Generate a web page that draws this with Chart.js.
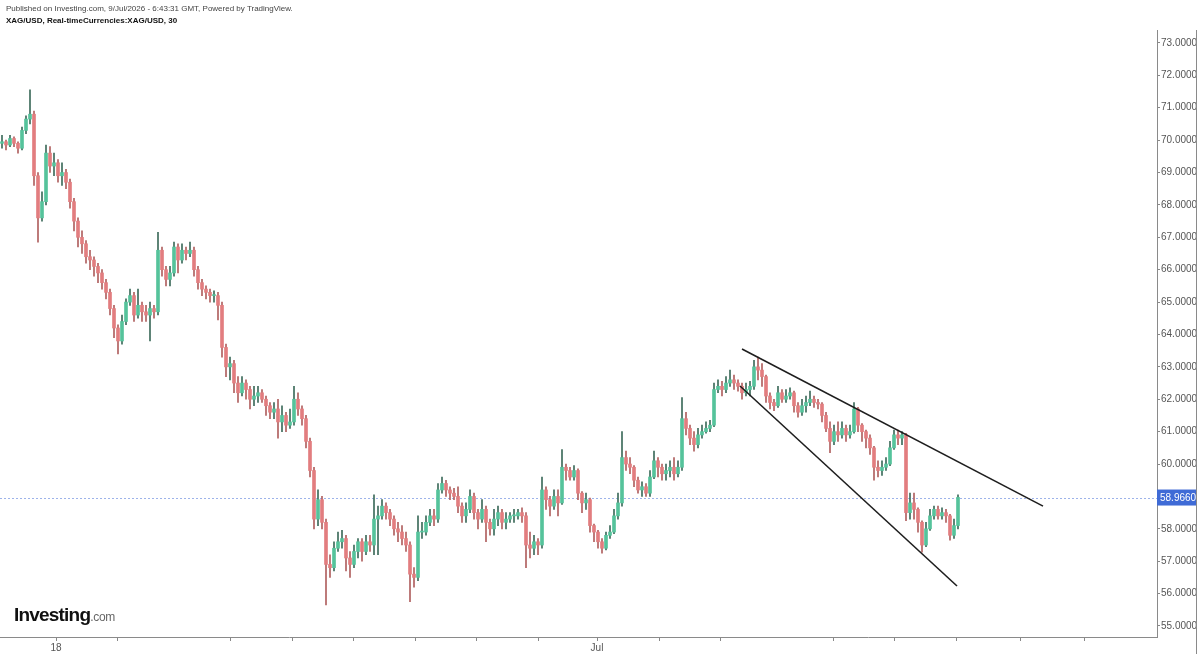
<!DOCTYPE html>
<html>
<head>
<meta charset="utf-8">
<script src="https://cdn.jsdelivr.net/npm/chart.js@4.4.1/dist/chart.umd.min.js"></script>
<style>
    html, body { margin: 0; padding: 0; background: #fff; }
    #wrap { position: relative; width: 1200px; height: 654px; overflow: hidden; }
    #chart { position: absolute; left: 0; top: 0; }
    .hdr { position: absolute; left: 6px; font-family: "Liberation Sans", Arial, sans-serif; font-size: 8px; color: #444; white-space: nowrap; }
    .logo { position: absolute; left: 14px; top: 604px; font-family: "Liberation Sans", Arial, sans-serif; white-space: nowrap; }
    .logo b { font-size: 19px; letter-spacing: -0.8px; color: #111; }
    .logo span { font-size: 12px; color: #666; letter-spacing: -0.3px; }
</style>
</head>
<body>
<div id="wrap">
    <canvas id="chart" width="1200" height="654"></canvas>
    <div class="hdr" style="top:4px;">Published on Investing.com, 9/Jul/2026 - 6:43:31 GMT, Powered by TradingView.</div>
    <div class="hdr" style="top:16px; color:#111; font-weight:bold;">XAG/USD, Real-timeCurrencies:XAG/USD, 30</div>
    <div class="logo"><b>Investing</b><span>.com</span></div>
</div>
<script>
// XAG/USD 30 min candles (grouped)
const opens = [
    69.90, 69.95, 69.85, 70.05, 69.90, 69.75, 70.30, 70.65, 70.80, 68.90,
    67.60, 68.10, 69.60, 69.20, 69.30, 68.90, 69.00, 68.70, 68.10, 67.50,
    67.00, 66.80, 66.40, 66.30, 66.10, 65.90, 65.60, 65.30, 64.80, 64.20,
    63.80, 64.40, 65.00, 65.20, 64.60, 64.90, 64.70, 64.60, 64.80, 64.70,
    66.60, 66.00, 65.70, 65.90, 66.70, 66.30, 66.60, 66.50, 66.60, 66.00,
    65.60, 65.40, 65.30, 65.20, 65.20, 64.90, 63.60, 63.00, 63.10, 62.50,
    62.20, 62.50, 62.30, 62.00, 62.10, 62.20, 62.00, 61.80, 61.60, 61.70,
    61.30, 61.50, 61.20, 61.30, 62.00, 61.70, 61.40, 60.70, 59.80, 58.30,
    58.90, 58.20, 56.90, 56.80, 57.40, 57.60, 57.70, 57.10, 56.90, 57.30,
    57.60, 57.30, 57.60, 57.50, 58.30, 58.40, 58.70, 58.50, 58.30, 58.00,
    57.90, 57.70, 57.50, 56.60, 56.50, 57.90, 57.90, 58.20, 58.40, 58.30,
    59.20, 59.40, 59.20, 59.10, 59.00, 58.70, 58.40, 58.60, 59.00, 58.50,
    58.30, 58.60, 58.20, 58.00, 58.30, 58.50, 58.20, 58.30, 58.40, 58.40,
    58.50, 58.40, 57.50, 57.40, 57.60, 57.50, 59.20, 58.90, 58.70, 59.00,
    58.80, 59.90, 59.80, 59.60, 59.80, 59.10, 58.80, 58.90, 58.10, 57.90,
    57.60, 57.40, 57.80, 57.90, 58.40, 58.80, 60.20, 60.00, 59.90, 59.50,
    59.20, 59.30, 59.10, 59.60, 60.10, 59.90, 59.70, 59.80, 59.90, 59.70,
    59.90, 61.40, 61.10, 60.80, 60.60, 60.90, 61.00, 61.10, 61.20, 62.30,
    62.40, 62.30, 62.50, 62.60, 62.50, 62.40, 62.20, 62.30, 62.40, 63.00,
    62.90, 62.70, 62.10, 61.90, 61.80, 62.20, 62.00, 62.10, 62.20, 61.80,
    61.60, 61.80, 61.90, 62.00, 61.90, 61.85, 61.50, 61.10, 60.70, 61.00,
    60.90, 61.10, 60.90, 61.00, 61.70, 61.20, 61.00, 60.80, 60.50, 59.90,
    59.80, 59.90, 60.00, 60.50, 60.90, 60.80, 60.90, 58.50, 58.80, 58.60,
    58.20, 57.50, 58.00, 58.40, 58.60, 58.40, 58.50, 58.40, 57.80, 58.10
];
const highs = [
    70.15, 70.00, 70.15, 70.10, 69.95, 70.40, 70.75, 71.55, 70.90, 69.00,
    68.40, 69.85, 69.80, 69.60, 69.40, 69.30, 69.10, 68.80, 68.20, 67.60,
    67.20, 66.90, 66.60, 66.40, 66.20, 66.00, 65.70, 65.40, 64.90, 64.30,
    64.60, 65.10, 65.40, 65.30, 65.40, 65.00, 64.90, 65.00, 64.90, 67.15,
    66.70, 66.10, 66.10, 66.85, 66.80, 66.80, 66.70, 66.85, 66.70, 66.10,
    65.70, 65.50, 65.40, 65.35, 65.30, 65.00, 63.70, 63.30, 63.20, 62.70,
    62.70, 62.60, 62.40, 62.40, 62.40, 62.30, 62.10, 61.90, 61.90, 62.00,
    61.80, 61.60, 61.70, 62.40, 62.20, 61.80, 61.50, 60.80, 59.90, 59.20,
    59.00, 58.30, 57.20, 57.60, 57.90, 57.95, 57.80, 57.30, 57.50, 57.70,
    57.70, 57.80, 57.80, 59.05, 58.70, 58.90, 58.80, 58.60, 58.40, 58.20,
    58.10, 57.90, 57.60, 56.80, 58.40, 58.20, 58.40, 58.60, 58.60, 59.40,
    59.60, 59.50, 59.30, 59.25, 59.30, 58.80, 58.80, 59.20, 59.10, 58.60,
    58.90, 58.70, 58.30, 58.60, 58.70, 58.60, 58.50, 58.50, 58.60, 58.60,
    58.65, 58.50, 57.90, 57.80, 57.70, 59.60, 59.30, 59.00, 59.20, 59.20,
    60.45, 60.00, 59.90, 59.95, 59.85, 59.15, 59.10, 58.95, 58.15, 57.95,
    57.70, 57.90, 58.10, 58.60, 59.10, 61.00, 60.40, 60.20, 59.95, 59.60,
    59.45, 59.40, 59.80, 60.40, 60.20, 60.00, 60.00, 60.10, 60.20, 60.10,
    62.05, 61.60, 61.20, 61.00, 61.10, 61.20, 61.30, 61.35, 62.50, 62.60,
    62.55, 62.70, 62.90, 62.75, 62.60, 62.50, 62.50, 62.55, 63.20, 63.30,
    63.10, 62.75, 62.20, 62.00, 62.40, 62.30, 62.30, 62.35, 62.25, 61.90,
    62.00, 62.10, 62.25, 62.10, 62.00, 61.90, 61.60, 61.30, 61.20, 61.30,
    61.30, 61.20, 61.20, 61.90, 61.75, 61.25, 61.05, 60.90, 60.55, 60.10,
    60.10, 60.20, 60.70, 61.05, 61.05, 61.00, 60.95, 59.10, 59.10, 58.65,
    58.25, 58.20, 58.60, 58.70, 58.70, 58.65, 58.60, 58.45, 58.30, 59.05
];
const lows = [
    69.75, 69.70, 69.80, 69.80, 69.60, 69.70, 70.20, 70.50, 68.60, 66.85,
    67.50, 68.00, 69.00, 68.90, 68.70, 68.60, 68.50, 67.90, 67.20, 66.70,
    66.50, 66.20, 66.00, 65.80, 65.60, 65.40, 65.10, 64.60, 63.90, 63.40,
    63.70, 64.30, 64.90, 64.40, 64.50, 64.40, 64.40, 63.80, 64.50, 64.60,
    65.80, 65.50, 65.50, 65.80, 65.90, 66.20, 66.30, 66.40, 65.80, 65.40,
    65.20, 65.10, 65.00, 65.00, 64.45, 63.30, 62.70, 62.60, 62.20, 61.90,
    62.10, 62.00, 61.70, 61.80, 61.90, 61.90, 61.50, 61.40, 61.40, 60.80,
    61.00, 61.00, 61.10, 61.20, 61.50, 61.20, 60.50, 59.60, 58.00, 58.10,
    58.00, 55.65, 56.50, 56.70, 57.30, 57.40, 56.70, 56.50, 56.80, 57.10,
    57.00, 57.20, 57.30, 57.20, 57.20, 58.30, 58.30, 58.10, 57.80, 57.60,
    57.50, 57.30, 55.75, 56.20, 56.40, 57.70, 57.80, 58.10, 58.10, 58.20,
    59.10, 59.00, 58.90, 58.90, 58.50, 58.20, 58.20, 58.50, 58.30, 58.00,
    58.20, 57.60, 57.80, 57.80, 58.10, 58.00, 58.00, 58.20, 58.20, 58.30,
    58.20, 56.80, 57.10, 57.20, 57.20, 57.40, 58.60, 58.40, 58.60, 58.40,
    58.75, 59.50, 59.50, 59.50, 58.90, 58.50, 58.60, 57.90, 57.60, 57.40,
    57.25, 57.35, 57.70, 57.85, 58.30, 58.70, 59.80, 59.70, 59.30, 59.10,
    59.00, 59.00, 59.00, 59.55, 59.60, 59.50, 59.50, 59.60, 59.50, 59.60,
    59.80, 60.90, 60.60, 60.40, 60.50, 60.80, 60.95, 61.00, 61.15, 62.20,
    62.10, 62.20, 62.40, 62.30, 62.25, 62.00, 62.10, 62.10, 62.30, 62.60,
    62.40, 61.90, 61.70, 61.65, 61.75, 61.90, 61.90, 62.00, 61.60, 61.45,
    61.50, 61.60, 61.80, 61.75, 61.70, 61.30, 61.00, 60.35, 60.60, 60.70,
    60.80, 60.70, 60.80, 60.95, 61.00, 60.70, 60.50, 60.30, 59.50, 59.60,
    59.65, 59.80, 59.95, 60.45, 60.60, 60.60, 58.25, 58.30, 58.30, 57.90,
    57.28, 57.45, 57.95, 58.30, 58.30, 58.30, 58.20, 57.65, 57.70, 58.00
];
const closes = [
    69.95, 69.85, 70.05, 69.90, 69.75, 70.30, 70.65, 70.80, 68.90, 67.60,
    68.10, 69.60, 69.20, 69.30, 68.90, 69.00, 68.70, 68.10, 67.50, 67.00,
    66.80, 66.40, 66.30, 66.10, 65.90, 65.60, 65.30, 64.80, 64.20, 63.80,
    64.40, 65.00, 65.20, 64.60, 64.90, 64.70, 64.60, 64.80, 64.70, 66.60,
    66.00, 65.70, 65.90, 66.70, 66.30, 66.60, 66.50, 66.60, 66.00, 65.60,
    65.40, 65.30, 65.20, 65.20, 64.90, 63.60, 63.00, 63.10, 62.50, 62.20,
    62.50, 62.30, 62.00, 62.10, 62.20, 62.00, 61.80, 61.60, 61.70, 61.30,
    61.50, 61.20, 61.30, 62.00, 61.70, 61.40, 60.70, 59.80, 58.30, 58.90,
    58.20, 56.90, 56.80, 57.40, 57.60, 57.70, 57.10, 56.90, 57.30, 57.60,
    57.30, 57.60, 57.50, 58.30, 58.40, 58.70, 58.50, 58.30, 58.00, 57.90,
    57.70, 57.50, 56.60, 56.50, 57.90, 57.90, 58.20, 58.40, 58.30, 59.20,
    59.40, 59.20, 59.10, 59.00, 58.70, 58.40, 58.60, 59.00, 58.50, 58.30,
    58.60, 58.20, 58.00, 58.30, 58.50, 58.20, 58.30, 58.40, 58.40, 58.50,
    58.40, 57.50, 57.40, 57.60, 57.50, 59.20, 58.90, 58.70, 59.00, 58.80,
    59.90, 59.80, 59.60, 59.80, 59.10, 58.80, 58.90, 58.10, 57.90, 57.60,
    57.40, 57.80, 57.90, 58.40, 58.80, 60.20, 60.00, 59.90, 59.50, 59.20,
    59.30, 59.10, 59.60, 60.10, 59.90, 59.70, 59.80, 59.90, 59.70, 59.90,
    61.40, 61.10, 60.80, 60.60, 60.90, 61.00, 61.10, 61.20, 62.30, 62.40,
    62.30, 62.50, 62.60, 62.50, 62.40, 62.20, 62.30, 62.40, 63.00, 62.90,
    62.70, 62.10, 61.90, 61.80, 62.20, 62.00, 62.10, 62.20, 61.80, 61.60,
    61.80, 61.90, 62.00, 61.90, 61.85, 61.50, 61.10, 60.70, 61.00, 60.90,
    61.10, 60.90, 61.00, 61.70, 61.20, 61.00, 60.80, 60.50, 59.90, 59.80,
    59.90, 60.00, 60.50, 60.90, 60.80, 60.90, 58.50, 58.80, 58.60, 58.20,
    57.50, 58.00, 58.40, 58.60, 58.40, 58.50, 58.40, 57.80, 58.10, 58.97
];

// price axis ticks
const priceTicks = [55, 56, 57, 58, 59, 60, 61, 62, 63, 64, 65, 66, 67, 68, 69, 70, 71, 72, 73];
// day separators, in candle units, and their labels
const dayTicks = [13.5, 28.75, 57, 72.5, 87.75, 103.25, 118.5, 134, 148.75, 164.25, 179.5, 207.75, 223, 238.5, 254.5, 270.5];
const dayLabels = ['18', '', '', '', '', '', '', '', 'Jul', '', '', '', '', '', '', ''];

// drawn trend lines (candle index, price)
const upperTrend = [{ x: 185, y: 63.55 }, { x: 260.25, y: 58.70 }];
const lowerTrend = [{ x: 184.5, y: 62.41 }, { x: 238.75, y: 56.235 }];

const lastPrice = 58.966;

const UP = '#55c39b';
const DOWN = '#e27d7f';
const UP_WICK = '#3d6b5b';
const DOWN_WICK = '#b0605f';
const FONT = '"Liberation Sans", Arial, sans-serif';

const idx = closes.map((_, i) => i);
const isUp = i => closes[i] >= opens[i];

// current price dotted line + badge on the axis
const priceLinePlugin = {
    id: 'priceLine',
    beforeDatasetsDraw(chart) {
        const { ctx, chartArea } = chart;
        const y = Math.round(chart.scales.y.getPixelForValue(lastPrice)) + 0.5;
        ctx.save();
        ctx.strokeStyle = '#9db3ea';
        ctx.lineWidth = 1;
        ctx.setLineDash([2, 2]);
        ctx.beginPath();
        ctx.moveTo(chartArea.left, y);
        ctx.lineTo(chartArea.right, y);
        ctx.stroke();
        ctx.restore();
    },
    afterDraw(chart) {
        const { ctx, chartArea } = chart;
        const y = chart.scales.y.getPixelForValue(lastPrice);
        ctx.save();
        ctx.fillStyle = '#3f6bd6';
        ctx.fillRect(chartArea.right, y - 8, 39, 16);
        ctx.fillStyle = '#fff';
        ctx.font = '10px ' + FONT;
        ctx.textBaseline = 'middle';
        ctx.fillText(lastPrice.toFixed(4), chartArea.right + 3, y + 0.5);
        // outer frame line on the right
        ctx.strokeStyle = '#8a8a8a';
        ctx.lineWidth = 1;
        ctx.beginPath();
        ctx.moveTo(1196.5, chartArea.top);
        ctx.lineTo(1196.5, 654);
        ctx.stroke();
        ctx.restore();
    }
};

new Chart(document.getElementById('chart'), {
    type: 'bar',
    data: {
        datasets: [
            {
                label: 'Upper',
                type: 'line',
                data: upperTrend,
                borderColor: '#1e1e1e',
                borderWidth: 1.6,
                pointRadius: 0,
                order: 0
            },
            {
                label: 'Lower',
                type: 'line',
                data: lowerTrend,
                borderColor: '#1e1e1e',
                borderWidth: 1.6,
                pointRadius: 0,
                order: 0
            },
            {
                label: 'Wick',
                data: idx.map(i => ({ x: i, y: [lows[i], highs[i]] })),
                backgroundColor: c => isUp(c.dataIndex) ? UP_WICK : DOWN_WICK,
                barThickness: 1,
                grouped: false,
                order: 2
            },
            {
                label: 'Body',
                data: idx.map(i => ({ x: i, y: [opens[i], closes[i]] })),
                backgroundColor: c => isUp(c.dataIndex) ? UP : DOWN,
                barThickness: 3,
                minBarLength: 1,
                grouped: false,
                order: 1
            }
        ]
    },
    options: {
        responsive: false,
        animation: false,
        events: [],
        layout: { padding: { top: 30, left: 0, right: 0, bottom: 0 } },
        plugins: {
            legend: { display: false },
            tooltip: { enabled: false }
        },
        scales: {
            x: {
                type: 'linear',
                min: -0.5,
                max: 288.75,
                offset: false,
                afterBuildTicks: s => { s.ticks = dayTicks.map(v => ({ value: v })); },
                afterFit: s => { s.height = 17; },
                ticks: {
                    autoSkip: false,
                    maxRotation: 0,
                    padding: 1,
                    color: '#555',
                    font: { family: FONT, size: 10 },
                    callback: (v, i) => dayLabels[i]
                },
                grid: { offset: false, drawOnChartArea: false, tickLength: 4, color: '#888' },
                border: { display: true, color: '#8a8a8a' }
            },
            y: {
                position: 'right',
                min: 54.66,
                max: 73.40,
                afterBuildTicks: s => { s.ticks = priceTicks.map(v => ({ value: v })); },
                afterFit: s => { s.width = 43; },
                ticks: {
                    padding: 1,
                    color: '#555',
                    font: { family: FONT, size: 10 },
                    callback: v => Number(v).toFixed(4)
                },
                grid: { drawOnChartArea: false, tickLength: 3, color: '#888' },
                border: { display: true, color: '#8a8a8a' }
            }
        }
    },
    plugins: [priceLinePlugin]
});
</script>
</body>
</html>
